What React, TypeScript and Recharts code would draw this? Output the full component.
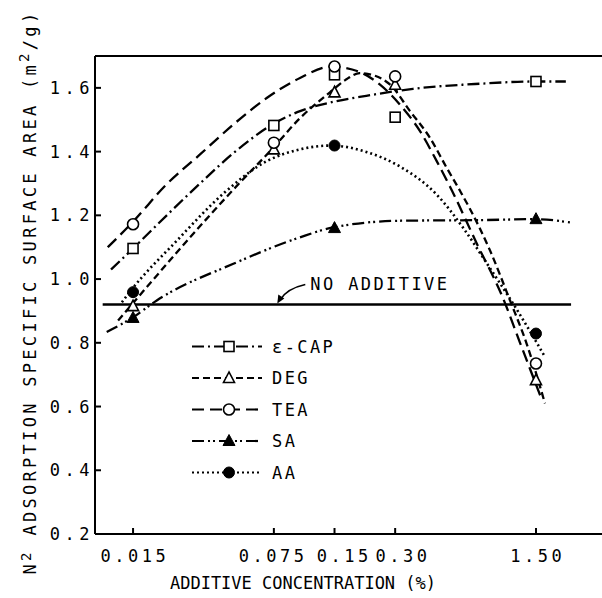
import React from 'react';
import { ComposedChart, Line, Scatter, XAxis, YAxis, ReferenceLine, ReferenceDot, Legend } from 'recharts';

// ---- axis ticks ----
const xTicks = [0.015, 0.075, 0.15, 0.3, 1.5];
const xTickLabels = ['0.015', '0.075', '0.15', '0.30', '1.50'];
const xTickNudge = [0, -2.5, 8, 6, 0];
const yTicks = [0.2, 0.4, 0.6, 0.8, 1.0, 1.2, 1.4, 1.6];
const yTickLabels = ['0.2', '0.4', '0.6', '0.8', '1.0', '1.2', '1.4', '1.6'];

// ---- series names ----
const seriesNames = ['ε-CAP', 'DEG', 'TEA', 'SA', 'AA'];

// ---- fitted curves (concentration %, surface area m2/g) ----
const capCurveC = [0.01166, 0.015, 0.02205, 0.03225, 0.0472, 0.0724, 0.1011, 0.1475, 0.2155, 0.3678, 0.791, 1.449, 2.11];
const capCurveV = [1.03, 1.096, 1.2, 1.3, 1.395, 1.482, 1.527, 1.556, 1.575, 1.597, 1.613, 1.62, 1.62];

const degCurveC = [0.01264, 0.0145, 0.0518, 0.0732, 0.1011, 0.1424, 0.17, 0.2001, 0.2383, 0.2834, 0.3555, 0.4467, 0.5408, 0.6294, 0.7056, 0.8867, 1.1145, 1.3487, 1.662];
const degCurveV = [0.87, 0.914, 1.308, 1.407, 1.505, 1.586, 1.625, 1.646, 1.638, 1.61, 1.527, 1.443, 1.349, 1.277, 1.22, 1.09, 0.933, 0.797, 0.61];

const teaCurveC = [0.01124, 0.015, 0.02205, 0.03225, 0.0472, 0.0691, 0.1011, 0.1441, 0.1962, 0.2523, 0.3171, 0.3986, 0.4824, 0.5616, 0.7644, 1.029, 1.25, 1.607];
const teaCurveV = [1.1, 1.18, 1.298, 1.391, 1.485, 1.568, 1.631, 1.667, 1.652, 1.61, 1.547, 1.464, 1.37, 1.29, 1.11, 0.94, 0.8, 0.62];

const saCurveC = [0.0111, 0.015, 0.01967, 0.0472, 0.1011, 0.1474, 0.3171, 0.791, 1.48, 2.21];
const saCurveV = [0.834, 0.88, 0.933, 1.048, 1.131, 1.162, 1.183, 1.185, 1.188, 1.178];

const aaCurveC = [0.0132, 0.0145, 0.0247, 0.0424, 0.0691, 0.1011, 0.1441, 0.2155, 0.3171, 0.4824, 0.6537, 0.8538, 1.2034, 1.662];
const aaCurveV = [0.927, 0.961, 1.12, 1.27, 1.37, 1.407, 1.419, 1.399, 1.353, 1.265, 1.16, 1.05, 0.905, 0.756];

const noAdditiveC = [0.0106, 2.24];
const noAdditiveV = [0.92, 0.92];

// ---- measured points ----
const capPtsC = [0.015, 0.075, 0.15, 0.3, 1.5];
const capPtsV = [1.096, 1.482, 1.641, 1.508, 1.62];
const degPtsC = [0.015, 0.075, 0.15, 0.3, 1.5];
const degPtsV = [0.915, 1.407, 1.586, 1.61, 0.683];
const teaPtsC = [0.015, 0.075, 0.15, 0.3, 1.5];
const teaPtsV = [1.172, 1.428, 1.667, 1.636, 0.735];
const saPtsC = [0.015, 0.15, 1.5];
const saPtsV = [0.878, 1.16, 1.188];
const aaPtsC = [0.015, 0.15, 1.5];
const aaPtsV = [0.959, 1.419, 0.829];

const zip = (cs: number[], vs: number[]) => cs.map((c, i) => ({ c, v: vs[i] }));

const FONT = '"DejaVu Sans Mono", "Liberation Mono", monospace';

const dashes = ['12 4 2 4', '7 4', '12 6', '12 4 2 3 2 4', '2 3'];
const markerKinds = ['square', 'openTri', 'openCircle', 'filledTri', 'filledCircle'];

function Marker({ kind, cx, cy }: { kind: string; cx: number; cy: number }) {
  if (cx == null || cy == null) return null;
  const sw = 1.6;
  switch (kind) {
    case 'square':
      return <rect x={cx - 5} y={cy - 5} width={10} height={10} fill="#fff" stroke="#000" strokeWidth={sw} />;
    case 'openTri':
      return <polygon points={`${cx},${cy - 6} ${cx - 5.5},${cy + 4.5} ${cx + 5.5},${cy + 4.5}`} fill="#fff" stroke="#000" strokeWidth={sw} />;
    case 'openCircle':
      return <circle cx={cx} cy={cy} r={5.5} fill="#fff" stroke="#000" strokeWidth={sw} />;
    case 'filledTri':
      return <polygon points={`${cx},${cy - 6.5} ${cx - 6},${cy + 4.5} ${cx + 6},${cy + 4.5}`} fill="#000" stroke="#000" strokeWidth={1} />;
    default:
      return <circle cx={cx} cy={cy} r={5.5} fill="#000" stroke="#000" strokeWidth={1} />;
  }
}

const XTick = (props: any) => {
  const { x, y, index } = props;
  const ls = 3.5;
  return (
    <g>
      <line x1={x} x2={x} y1={y} y2={y - 6} stroke="#000" strokeWidth={2} />
      <text x={x + ls / 2 + xTickNudge[index]} y={y + 28} textAnchor="middle" fontFamily={FONT} fontSize={17} letterSpacing={ls} fill="#000">
        {xTickLabels[index]}
      </text>
    </g>
  );
};

const YTick = (props: any) => {
  const { x, y, index } = props;
  return (
    <g>
      <line x1={x} x2={x + 6} y1={y} y2={y} stroke="#000" strokeWidth={2} />
      <text x={x - 1} y={y + 6} textAnchor="end" fontFamily={FONT} fontSize={17} letterSpacing={4.5} fill="#000">
        {yTickLabels[index]}
      </text>
    </g>
  );
};

const LegendContent = () => (
  <svg width={200} height={160}>
    {seriesNames.map((name, i) => {
      const y = 16.5 + i * 31.5;
      return (
        <g key={name}>
          <line x1={7} x2={77} y1={y} y2={y} stroke="#000" strokeWidth={2.2} strokeDasharray={dashes[i]} />
          <Marker kind={markerKinds[i]} cx={44} cy={y} />
          <text x={87} y={y + 6} fontFamily={FONT} fontSize={17} letterSpacing={2.4} fill="#000">
            {name}
          </text>
        </g>
      );
    })}
  </svg>
);

const NoAdditiveShape = (props: any) => {
  const { cx, cy } = props;
  return (
    <g>
      <path d={`M ${cx + 28} ${cy - 20} Q ${cx + 10} ${cy - 16} ${cx + 3} ${cy - 5}`} fill="none" stroke="#000" strokeWidth={1.6} />
      <polygon points={`${cx},${cy - 1} ${cx + 1},${cy - 10} ${cx + 7},${cy - 6}`} fill="#000" />
      <text x={cx + 33} y={cy - 15} fontFamily={FONT} fontSize={17} letterSpacing={2.4} fill="#000">
        NO ADDITIVE
      </text>
    </g>
  );
};

const curves = [
  zip(capCurveC, capCurveV),
  zip(degCurveC, degCurveV),
  zip(teaCurveC, teaCurveV),
  zip(saCurveC, saCurveV),
  zip(aaCurveC, aaCurveV),
];
const points = [
  zip(capPtsC, capPtsV),
  zip(degPtsC, degPtsV),
  zip(teaPtsC, teaPtsV),
  zip(saPtsC, saPtsV),
  zip(aaPtsC, aaPtsV),
];

export default function App() {
  return (
    <div style={{ position: 'absolute', left: 0, top: 0, width: 602, height: 598, background: '#fff' }}>
      <ComposedChart width={602} height={598} margin={{ top: 56, right: 0, bottom: 0, left: 0 }}>
        <XAxis
          dataKey="c"
          type="number"
          scale="log"
          domain={[0.00971, 3.19]}
          allowDataOverflow
          ticks={xTicks}
          interval={0}
          height={64}
          tickSize={0}
          tickMargin={0}
          tickLine={false}
          axisLine={{ stroke: '#000', strokeWidth: 2 }}
          tick={<XTick />}
        />
        <YAxis
          dataKey="v"
          type="number"
          domain={[0.2, 1.7]}
          allowDataOverflow
          ticks={yTicks}
          interval={0}
          width={95}
          tickSize={0}
          tickMargin={0}
          tickLine={false}
          axisLine={{ stroke: '#000', strokeWidth: 2 }}
          tick={<YTick />}
        />
        <ReferenceLine y={1.7} stroke="#000" strokeWidth={2} />
        <Line data={zip(noAdditiveC, noAdditiveV)} dataKey="v" stroke="#000" strokeWidth={2.5} dot={false} activeDot={false} isAnimationActive={false} legendType="none" />
        {curves.map((d, i) => (
          <Line
            key={'l' + i}
            data={d}
            dataKey="v"
            name={seriesNames[i]}
            type="monotone"
            stroke="#000"
            strokeWidth={i === 4 ? 2.6 : 2.3}
            strokeDasharray={dashes[i]}
            dot={false}
            activeDot={false}
            isAnimationActive={false}
          />
        ))}
        {points.map((d, i) => (
          <Scatter
            key={'s' + i}
            data={d}
            dataKey="v"
            name={seriesNames[i] + ' pts'}
            isAnimationActive={false}
            shape={(p: any) => <Marker kind={markerKinds[i]} cx={p.cx} cy={p.cy} />}
          />
        ))}
        <ReferenceDot x={0.078} y={0.92} r={0} shape={<NoAdditiveShape />} />
        <Legend
          verticalAlign="middle"
          align="center"
          layout="horizontal"
          content={<LegendContent />}
          wrapperStyle={{ position: 'absolute', left: 185, top: 330, width: 200, height: 160 }}
        />
        <text x={303} y={589} textAnchor="middle" fontFamily={FONT} fontSize={17} fill="#000">
          ADDITIVE CONCENTRATION (%)
        </text>
        <text
          transform="translate(36, 292) rotate(-90)"
          textAnchor="middle"
          fontFamily={FONT}
          fontSize={17}
          letterSpacing={3.3}
          fill="#000"
        >
          <tspan>N</tspan>
          <tspan dy={-5} fontSize={14}>2</tspan>
          <tspan dy={5}> ADSORPTION SPECIFIC SURFACE AREA (m</tspan>
          <tspan dy={-7} fontSize={14}>2</tspan>
          <tspan dy={7}>/g)</tspan>
        </text>
      </ComposedChart>
    </div>
  );
}
